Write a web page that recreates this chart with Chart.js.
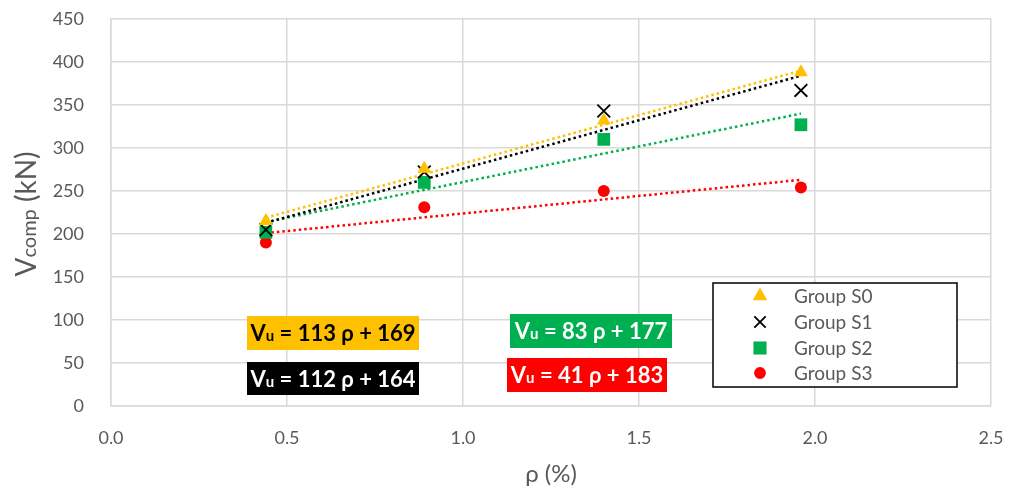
<!DOCTYPE html>
<html lang="en">
<head>
  <meta charset="UTF-8" />
  <title>Vcomp vs rho</title>
  <script src="https://cdn.jsdelivr.net/npm/chart.js"></script>
  <style>
    body { margin: 0; background: #fff; }
    #wrap { width: 1012px; height: 493px; }
  </style>
</head>
<body>
  <div id="wrap"><canvas id="chart"></canvas></div>
  <script>
    // measured points
    const rho = [0.44, 0.89, 1.40, 1.96];
    const groupS0 = [215, 276, 332, 388];
    const groupS1 = [205, 272, 343, 367];
    const groupS2 = [202, 260, 310, 327];
    const groupS3 = [190, 231, 250, 254];

    // dotted trend lines, read at both ends
    const trendX = [0.44, 1.96];
    const trendS0 = [219, 390];
    const trendS1 = [213, 384];
    const trendS2 = [214, 340];
    const trendS3 = [201, 263];

    const groupNames = ['Group S0', 'Group S1', 'Group S2', 'Group S3'];
    const eqSlope = [113, 112, 83, 41];
    const eqIntercept = [169, 164, 177, 183];
    const xTicks = [0, 0.5, 1.0, 1.5, 2.0, 2.5];
    const yTicks = [0, 50, 100, 150, 200, 250, 300, 350, 400, 450];

    const colors = ['#FFC000', '#000000', '#00B050', '#FF0000'];
    const styles = ['triangle', 'crossRot', 'rect', 'circle'];
    const radii = [8, 9, 9, 6];
    const FONT = 'Lato, "Open Sans", sans-serif';

    const pts = (ys, xs) => ys.map((y, i) => ({ x: xs[i], y: y }));
    const series = [groupS0, groupS1, groupS2, groupS3];
    const trends = [trendS0, trendS1, trendS2, trendS3];

    const datasets = [];
    series.forEach((s, i) => {
      datasets.push({
        label: groupNames[i], data: pts(s, rho),
        pointStyle: styles[i], pointRadius: radii[i],
        backgroundColor: colors[i], borderColor: colors[i],
        pointBorderWidth: i === 1 ? 1.8 : 0, showLine: false
      });
    });
    trends.forEach((t, i) => {
      datasets.push({
        label: 'trend' + i, data: pts(t, trendX), showLine: true,
        pointRadius: 0, borderColor: colors[i], borderWidth: 2.5,
        borderDash: [2.5, 3], fill: false
      });
    });

    // equation boxes: [x, y, w, h, bg, text color]
    const eqBoxes = [
      [247, 316, 172, 34, '#FFC000', '#000'],
      [247, 362, 172, 33, '#000000', '#fff'],
      [510, 314, 162, 34, '#00B050', '#fff'],
      [507, 358, 160, 34, '#FF0000', '#fff']
    ];

    const extras = {
      id: 'extras',
      afterDraw(chart) {
        const ctx = chart.ctx;
        ctx.save();

        // equation labels
        eqBoxes.forEach((b, i) => {
          ctx.fillStyle = b[4];
          ctx.fillRect(b[0], b[1], b[2], b[3]);
          const rest = ' = ' + eqSlope[i] + ' \u03C1 + ' + eqIntercept[i];
          ctx.font = 'bold 22px ' + FONT;
          const wV = ctx.measureText('V').width;
          const wR = ctx.measureText(rest).width;
          ctx.font = 'bold 15px ' + FONT;
          const wu = ctx.measureText('u').width;
          let x = b[0] + (b[2] - wV - wu - wR) / 2;
          const y = b[1] + b[3] / 2 + 8;
          ctx.fillStyle = b[5];
          ctx.textBaseline = 'alphabetic';
          ctx.textAlign = 'left';
          ctx.font = 'bold 22px ' + FONT;
          ctx.fillText('V', x, y); x += wV;
          ctx.font = 'bold 15px ' + FONT;
          ctx.fillText('u', x, y); x += wu;
          ctx.font = 'bold 22px ' + FONT;
          ctx.fillText(rest, x, y);
        });

        // legend
        ctx.fillStyle = '#fff';
        ctx.fillRect(713, 283, 244, 104);
        ctx.strokeStyle = '#000';
        ctx.lineWidth = 1.5;
        ctx.strokeRect(713, 283, 244, 104);
        const rows = [296, 322, 348, 373];
        groupNames.forEach((n, i) => {
          ctx.fillStyle = colors[i];
          ctx.strokeStyle = colors[i];
          ctx.lineWidth = i === 1 ? 1.8 : 0;
          Chart.helpers.drawPoint(ctx, { pointStyle: styles[i], radius: radii[i] - 1, borderWidth: ctx.lineWidth, rotation: 0 }, 760, rows[i]);
          ctx.fillStyle = '#595959';
          ctx.font = '19px ' + FONT;
          ctx.textBaseline = 'middle';
          ctx.fillText(n, 794, rows[i] + 1);
        });

        // y title with small "comp"
        ctx.translate(26, 214);
        ctx.rotate(-Math.PI / 2);
        ctx.fillStyle = '#595959';
        ctx.textBaseline = 'alphabetic';
        ctx.font = '28px ' + FONT;
        const a = ctx.measureText('V').width;
        const c = ctx.measureText(' (kN)').width;
        ctx.font = '20px ' + FONT;
        const bw = ctx.measureText('comp').width;
        let tx = -(a + bw + c) / 2;
        ctx.font = '28px ' + FONT;
        ctx.fillText('V', tx, 10); tx += a;
        ctx.font = '20px ' + FONT;
        ctx.fillText('comp', tx, 10); tx += bw;
        ctx.font = '28px ' + FONT;
        ctx.fillText(' (kN)', tx, 10);
        ctx.restore();
      }
    };

    new Chart(document.getElementById('chart'), {
      type: 'scatter',
      data: { datasets: datasets },
      options: {
        responsive: true, maintainAspectRatio: false, animation: false,
        layout: { padding: { top: 19, right: 21, left: 0, bottom: 0 } },
        plugins: { legend: { display: false }, tooltip: { enabled: false } },
        scales: {
          x: {
            type: 'linear', min: 0, max: 2.5,
            afterFit: s => { s.height = 87; s.paddingLeft = 10; s.paddingRight = 10; },
            afterBuildTicks: s => { s.ticks = xTicks.map(v => ({ value: v })); },
            ticks: { callback: v => v.toFixed(1), color: '#595959', font: { family: FONT, size: 18 }, padding: 21 },
            grid: { color: '#d9d9d9', lineWidth: 1.5, drawTicks: false },
            border: { color: '#d9d9d9', width: 1.5 },
            title: { display: true, text: '\u03C1 (%)', color: '#595959', font: { family: FONT, size: 24 }, padding: { top: 8, bottom: 4 } }
          },
          y: {
            min: 0, max: 450,
            afterFit: s => { s.width = 111; s.paddingTop = 10; s.paddingBottom = 10; },
            afterBuildTicks: s => { s.ticks = yTicks.map(v => ({ value: v })); },
            ticks: { color: '#595959', font: { family: FONT, size: 18 }, padding: 27 },
            grid: { color: '#d9d9d9', lineWidth: 1.5, drawTicks: false },
            border: { color: '#d9d9d9', width: 1.5 }
          }
        }
      },
      plugins: [extras]
    });
  </script>
</body>
</html>
